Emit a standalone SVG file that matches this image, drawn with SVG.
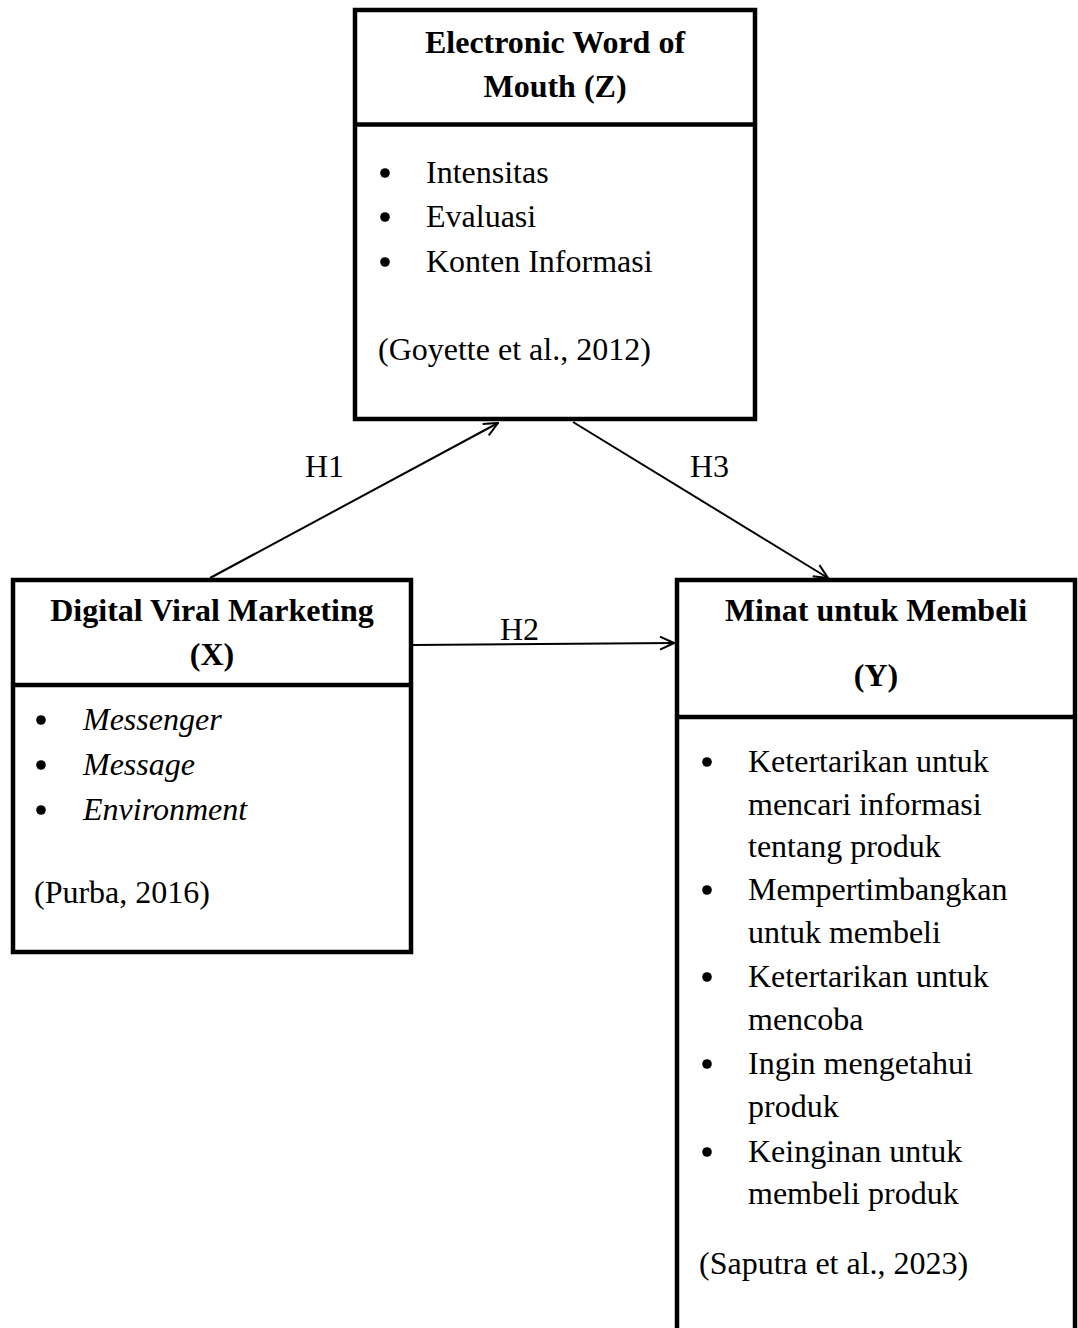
<svg xmlns="http://www.w3.org/2000/svg" width="1078" height="1328" viewBox="0 0 1078 1328">
<style>
.box{fill:#fff;stroke:#000;stroke-width:4.5}
.div{stroke:#000;stroke-width:4.5}
text{font-family:"Liberation Serif","Times New Roman",serif;font-size:32px;fill:#000}
.b{font-weight:bold}
.i{font-style:italic}
.c{text-anchor:middle}
.con{stroke:#000;stroke-width:2;fill:none}
</style>
<defs>
<marker id="arr" viewBox="0 0 16 16" refX="15" refY="8" markerWidth="16" markerHeight="16" markerUnits="userSpaceOnUse" orient="auto">
<path d="M1,1.5 L15,8 L1,14.5" fill="none" stroke="#000" stroke-width="2"/>
</marker>
<circle id="dot" r="4.8" fill="#000"/>
</defs>
<rect width="1078" height="1328" fill="#fff"/>
<g id="connectors">
<line class="con" x1="210" y1="578" x2="498" y2="423" marker-end="url(#arr)"/>
<line class="con" x1="573" y1="422" x2="828" y2="578" marker-end="url(#arr)"/>
<line class="con" x1="413" y1="645" x2="674" y2="643" marker-end="url(#arr)"/>
<text x="305" y="477">H1</text>
<text x="690" y="477">H3</text>
<text x="500" y="640">H2</text>
</g>
<g id="node-z">
<rect class="box" x="355" y="10" width="400" height="409"/>
<line class="div" x1="355" y1="124.5" x2="755" y2="124.5"/>
<text class="b c" x="555" y="53">Electronic Word of</text>
<text class="b c" x="555" y="97">Mouth (Z)</text>
<use href="#dot" x="385" y="173"/><text x="426" y="183">Intensitas</text>
<use href="#dot" x="385" y="217"/><text x="426" y="227">Evaluasi</text>
<use href="#dot" x="385" y="262"/><text x="426" y="272">Konten Informasi</text>
<text x="378" y="360">(Goyette et al., 2012)</text>
</g>
<g id="node-x">
<rect class="box" x="13" y="580" width="398" height="372"/>
<line class="div" x1="13" y1="685" x2="411" y2="685"/>
<text class="b c" x="212" y="621">Digital Viral Marketing</text>
<text class="b c" x="212" y="665">(X)</text>
<use href="#dot" x="41" y="720"/><text class="i" x="83" y="730">Messenger</text>
<use href="#dot" x="41" y="765"/><text class="i" x="83" y="775">Message</text>
<use href="#dot" x="41" y="810"/><text class="i" x="83" y="820">Environment</text>
<text x="34" y="903">(Purba, 2016)</text>
</g>
<g id="node-y">
<rect class="box" x="677" y="580" width="398" height="800"/>
<line class="div" x1="677" y1="717" x2="1075" y2="717"/>
<text class="b c" x="876" y="621">Minat untuk Membeli</text>
<text class="b c" x="876" y="686">(Y)</text>
<use href="#dot" x="707" y="762"/><text x="748" y="772">Ketertarikan untuk</text>
<text x="748" y="815">mencari informasi</text>
<text x="748" y="857">tentang produk</text>
<use href="#dot" x="707" y="890"/><text x="748" y="900">Mempertimbangkan</text>
<text x="748" y="943">untuk membeli</text>
<use href="#dot" x="707" y="977"/><text x="748" y="987">Ketertarikan untuk</text>
<text x="748" y="1030">mencoba</text>
<use href="#dot" x="707" y="1064"/><text x="748" y="1074">Ingin mengetahui</text>
<text x="748" y="1117">produk</text>
<use href="#dot" x="707" y="1152"/><text x="748" y="1162">Keinginan untuk</text>
<text x="748" y="1204">membeli produk</text>
<text x="699" y="1274">(Saputra et al., 2023)</text>
</g>
</svg>
